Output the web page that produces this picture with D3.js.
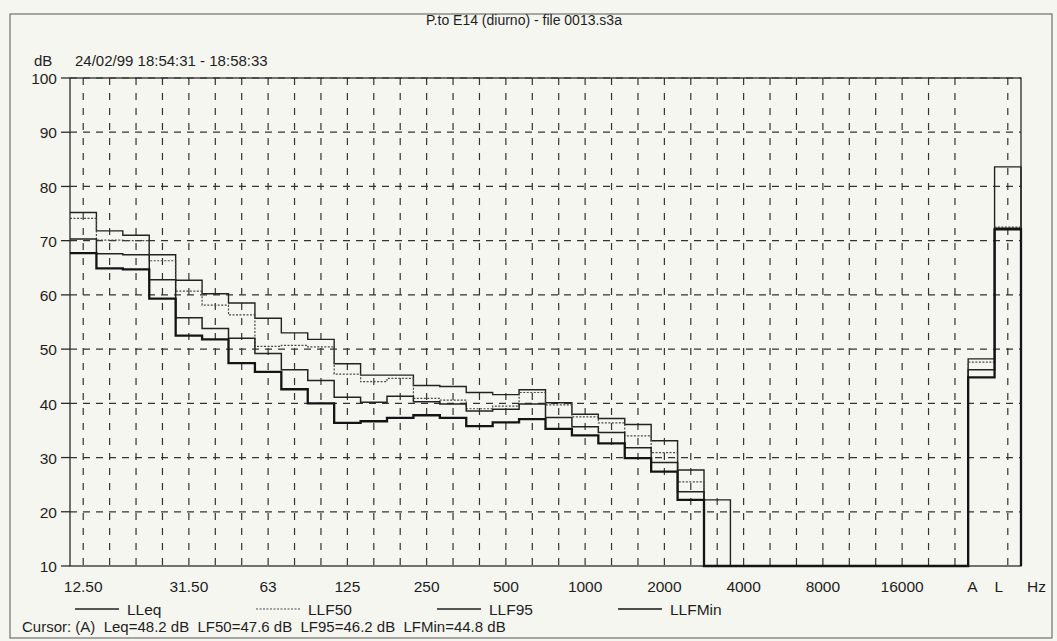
<!DOCTYPE html>
<html>
<head>
<meta charset="utf-8">
<script src="https://cdn.jsdelivr.net/npm/d3@7"></script>
<style>
  body { margin: 0; background: #f6f6f1; }
  svg { display: block; }
  text { font-family: Arial, "Liberation Sans", sans-serif; fill: #1e1e1e; }
</style>
</head>
<body>
<div id="chart"></div>
<script>
// 1/3 octave bands, then an empty slot, then the A and L totals
var bands = ["12.50", "16", "20", "25", "31.50", "40", "50", "63", "80", "100",
    "125", "160", "200", "250", "315", "400", "500", "630", "800", "1000",
    "1250", "1600", "2000", "2500", "3150", "4000", "5000", "6300", "8000", "10000",
    "12500", "16000", "20000", "", "A", "L"];
var xTickLabels = ["12.50", "31.50", "63", "125", "250", "500", "1000", "2000",
    "4000", "8000", "16000", "A", "L"];
var yTicks = [10, 20, 30, 40, 50, 60, 70, 80, 90, 100];

var lleq = [75.2, 71.8, 71.0, 67.4, 62.7, 60.2, 58.5, 55.7, 53.0, 51.8,
    47.3, 45.2, 45.2, 43.3, 43.1, 42.0, 41.6, 42.5, 40.1, 38.0,
    37.2, 36.1, 33.1, 27.7, 22.2, null, null, null, null, null,
    null, null, null, null, 48.2, 83.6];
var llf50 = [74.1, 70.1, 70.0, 66.3, 60.7, 58.1, 56.3, 50.5, 50.7, 50.4,
    45.4, 44.0, 44.6, 40.9, 40.6, 39.0, 39.5, 42.0, 39.7, 37.5,
    36.4, 34.0, 30.9, 25.5, null, null, null, null, null, null,
    null, null, null, null, 47.6, 72.5];
var llf95 = [70.3, 67.6, 67.4, 62.8, 55.8, 53.8, 52.0, 49.2, 46.2, 44.2,
    41.1, 40.2, 41.3, 40.3, 39.9, 38.6, 38.9, 39.9, 37.4, 35.7,
    34.6, 31.8, 29.1, 23.7, null, null, null, null, null, null,
    null, null, null, null, 46.2, 72.3];
var llfmin = [67.7, 64.9, 64.7, 59.3, 52.5, 51.8, 47.4, 45.8, 42.6, 40.0,
    36.4, 36.7, 37.3, 37.8, 37.3, 35.8, 36.5, 37.1, 35.3, 34.1,
    32.6, 29.9, 27.4, 22.2, null, null, null, null, null, null,
    null, null, null, null, 44.8, 72.1];

var seriesNames = ["LLeq", "LLF50", "LLF95", "LLFMin"];

var baseWidth = 1057, baseHeight = 641;
var margin = {top: 78, left: 70, right: 36, bottom: 75},
    width = baseWidth - margin.left - margin.right,
    height = baseHeight - margin.top - margin.bottom;

var x = d3.scaleBand().domain(bands).range([0, width]).padding(0);
var y = d3.scaleLinear().domain([10, 100]).range([height, 0]);

var svg = d3.select("#chart")
    .append("svg")
        .attr("width", baseWidth)
        .attr("height", baseHeight);

svg.append("rect")
    .attr("width", baseWidth).attr("height", baseHeight)
    .style("fill", "#f6f6f1");

// outer frame of the printout
svg.append("rect")
    .attr("x", 10).attr("y", 14)
    .attr("width", 1042).attr("height", 624)
    .style("fill", "none").style("stroke", "#555").style("stroke-width", 1);

svg.append("text")
    .attr("x", 524).attr("y", 25)
    .attr("text-anchor", "middle")
    .style("font-size", "14px")
    .text("P.to E14 (diurno) - file 0013.s3a");

svg.append("text")
    .attr("x", 34).attr("y", 66)
    .style("font-size", "15px")
    .text("dB");

svg.append("text")
    .attr("x", 75).attr("y", 66)
    .style("font-size", "15px")
    .text("24/02/99 18:54:31 - 18:58:33");

var g = svg.append("g")
    .attr("transform", "translate(" + margin.left + "," + margin.top + ")");

// grid
var gridStroke = "#333";
g.append("g").classed("h-grid", true)
    .selectAll("line")
    .data(yTicks.filter(function(d) { return d > 10; }))
    .enter()
    .append("line")
        .attr("x1", 0).attr("x2", width)
        .attr("y1", function(d) { return y(d); })
        .attr("y2", function(d) { return y(d); })
        .style("stroke", gridStroke)
        .style("stroke-width", 1.2)
        .style("stroke-dasharray", "7,6");

g.append("g").classed("v-grid", true)
    .selectAll("line")
    .data(bands.filter(function(d) { return d !== "A"; }))
    .enter()
    .append("line")
        .attr("x1", function(d) { return x(d) + x.bandwidth() / 2; })
        .attr("x2", function(d) { return x(d) + x.bandwidth() / 2; })
        .attr("y1", 0).attr("y2", height)
        .style("stroke", gridStroke)
        .style("stroke-width", 1.2)
        .style("stroke-dasharray", "7,8");

// frame
g.append("rect")
    .attr("width", width).attr("height", height)
    .style("fill", "none")
    .style("stroke", "#2a2a2a")
    .style("stroke-width", 1.3);

// y axis ticks and labels
var yAxis = g.append("g").classed("y-axis", true)
    .selectAll("g")
    .data(yTicks)
    .enter()
    .append("g")
        .attr("transform", function(d) { return "translate(0," + y(d) + ")"; });
yAxis.append("line")
    .attr("x1", -9).attr("x2", 0)
    .style("stroke", "#2a2a2a").style("stroke-width", 1.3);
yAxis.append("text")
    .attr("x", -13).attr("dy", "0.4em")
    .attr("text-anchor", "end")
    .style("font-size", "15.5px")
    .text(function(d) { return d; });

// x labels
g.append("g").classed("x-axis", true)
    .selectAll("text")
    .data(xTickLabels)
    .enter()
    .append("text")
        .attr("x", function(d) { return x(d) + x.bandwidth() / 2; })
        .attr("dx", function(d) { return (d === "A" || d === "L") ? -9 : 0; })
        .attr("y", height + 26)
        .attr("text-anchor", "middle")
        .style("font-size", "15.5px")
        .text(function(d) { return d; });

g.append("text")
    .attr("x", width + 6).attr("y", height + 26)
    .style("font-size", "15.5px")
    .text("Hz");

// spectra drawn as steps, values under the axis floor sit on the axis
var styles = {
    "LLeq":   {width: 1.4, dash: null, color: "#222"},
    "LLF50":  {width: 1.2, dash: "2,1.5", color: "#4a4a4a"},
    "LLF95":  {width: 1.5, dash: null, color: "#222"},
    "LLFMin": {width: 2.3, dash: null, color: "#141414"}
};
var seriesData = [lleq, llf50, llf95, llfmin];

function stepPoints(values) {
    var pts = [];
    values.forEach(function(v, i) {
        var val = (v === null || v < 10) ? 10 : v;
        pts.push([x(bands[i]), val]);
        pts.push([x(bands[i]) + x.bandwidth(), val]);
    });
    pts.push([width, 10]);
    return pts;
}

var line = d3.line()
    .x(function(d) { return d[0]; })
    .y(function(d) { return y(d[1]); });

seriesNames.forEach(function(name, idx) {
    var st = styles[name];
    g.append("path")
        .datum(stepPoints(seriesData[idx]))
        .attr("d", line)
        .style("fill", "none")
        .style("stroke", st.color)
        .style("stroke-width", st.width)
        .style("stroke-dasharray", st.dash);
});

// legend
var legend = svg.append("g").classed("legend", true)
    .selectAll("g")
    .data(seriesNames)
    .enter()
    .append("g")
        .attr("transform", function(d, i) { return "translate(" + (75 + i * 181) + ", 609)"; });
legend.append("line")
    .attr("x1", 0).attr("x2", 44)
    .style("stroke", function(d) { return styles[d].color; })
    .style("stroke-width", function(d) { return Math.min(styles[d].width, 1.7); })
    .style("stroke-dasharray", function(d) { return styles[d].dash; });
legend.append("text")
    .attr("x", 52).attr("dy", "0.4em")
    .style("font-size", "15.5px")
    .text(function(d) { return d; });

svg.append("text")
    .attr("x", 22).attr("y", 632)
    .style("font-size", "15px")
    .style("white-space", "pre")
    .text("Cursor: (A)  Leq=48.2 dB  LF50=47.6 dB  LF95=46.2 dB  LFMin=44.8 dB");
</script>
</body>
</html>
